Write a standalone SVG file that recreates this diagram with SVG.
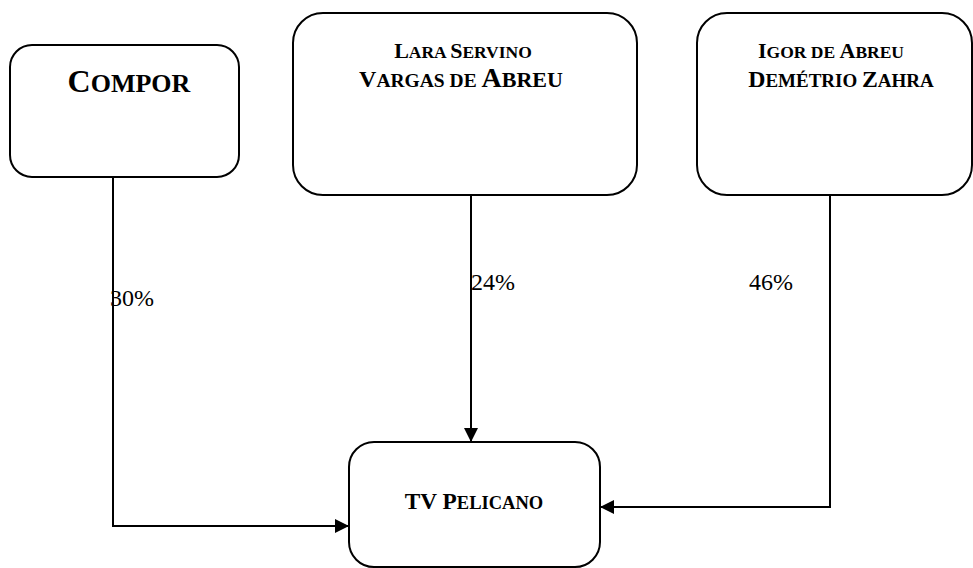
<svg xmlns="http://www.w3.org/2000/svg" width="973" height="568" viewBox="0 0 973 568">
<defs>
<style>
.box{fill:#fff;stroke:#000;stroke-width:2}
.t{font-family:"Liberation Serif","Times New Roman",serif;font-weight:bold;fill:#000;text-anchor:middle}
.c{font-size:22px}
.s{font-size:17.5px}
.pct{font-family:"Liberation Serif","Times New Roman",serif;font-size:24px;fill:#000}
.line{fill:none;stroke:#000;stroke-width:2}
</style>
<marker id="arrL" viewBox="0 0 14 14" refX="14" refY="7" markerWidth="14" markerHeight="14" markerUnits="userSpaceOnUse" orient="auto">
<path d="M0,0 L14,7 L0,14 Z" fill="#000"/>
</marker>
</defs>
<g id="compor">
<rect class="box" x="10" y="45" width="229" height="132" rx="22" ry="22"/>
<text class="t" x="129" y="92"><tspan style="font-size:32px">C</tspan><tspan style="font-size:26px">OMPOR</tspan></text>
</g>
<g id="lara">
<rect class="box" x="293" y="13" width="344" height="182" rx="30" ry="30"/>
<text class="t" x="463" y="58"><tspan class="c">L</tspan><tspan class="s">ARA </tspan><tspan class="c">S</tspan><tspan class="s">ERVINO</tspan></text>
<text class="t" x="461" y="87"><tspan style="font-size:24px">V</tspan><tspan style="font-size:19.5px">ARGAS DE </tspan><tspan style="font-size:28px">A</tspan><tspan style="font-size:22px">BREU</tspan></text>
</g>
<g id="igor">
<rect class="box" x="697" y="13" width="275" height="182" rx="30" ry="30"/>
<text class="t" x="831" y="58"><tspan class="c">I</tspan><tspan class="s">GOR DE </tspan><tspan class="c">A</tspan><tspan class="s">BREU</tspan></text>
<text class="t" x="841" y="87"><tspan style="font-size:23.8px">D</tspan><tspan style="font-size:19px">EMÉTRIO </tspan><tspan style="font-size:23.8px">Z</tspan><tspan style="font-size:19px">AHRA</tspan></text>
</g>
<g id="tvpelicano">
<rect class="box" x="349" y="442" width="251" height="125" rx="25" ry="25"/>
<text class="t" x="474" y="509"><tspan style="font-size:23.3px">TV P</tspan><tspan style="font-size:18.5px">ELICANO</tspan></text>
</g>
<g id="connectors">
<path class="line" d="M113,177 V526 H349" marker-end="url(#arrL)"/>
<path class="line" d="M471,195 V442" marker-end="url(#arrL)"/>
<path class="line" d="M830,195 V507 H600" marker-end="url(#arrL)"/>
<text class="pct" x="110" y="306">30%</text>
<text class="pct" x="471" y="290">24%</text>
<text class="pct" x="749" y="290">46%</text>
</g>
</svg>
